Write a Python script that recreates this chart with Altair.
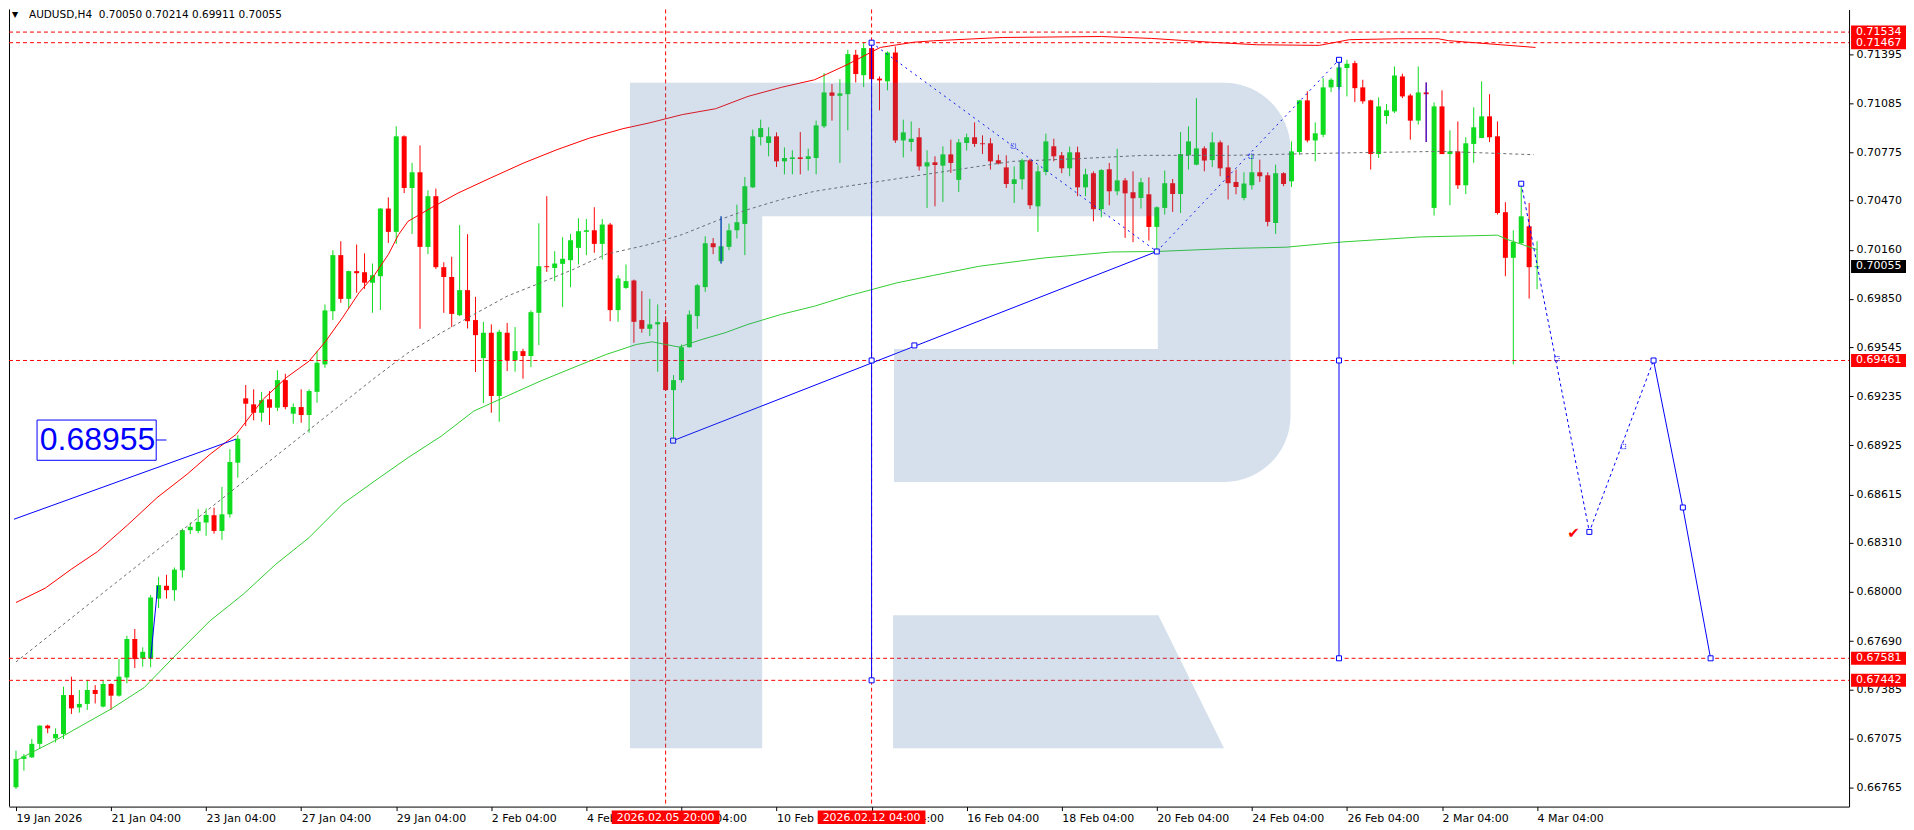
import altair as alt
import pandas as pd
import numpy as np

# ---------------- candles (H4 bars, index 0 = 19 Jan 2026) ----------------
OPEN = [0.66767,0.66946,0.66956,0.67041,0.67156,0.67076,0.67103,0.67349,0.67271,0.67293,
        0.67381,0.67276,0.67419,0.67345,0.67460,0.67703,0.67580,0.67580,0.67958,0.68039,
        0.68011,0.68137,0.68390,0.68385,0.68438,0.68484,0.68385,0.68490,0.68816,0.69222,
        0.69184,0.69131,0.69216,0.69163,0.69337,0.69125,0.69167,0.69117,0.69263,0.69436,
        0.69772,0.70126,0.69850,0.70025,0.70018,0.69952,0.69993,0.70420,0.70273,0.70876,
        0.70550,0.70649,0.70178,0.70498,0.70050,0.69988,0.69747,0.69905,0.69716,0.69476,
        0.69636,0.69237,0.69636,0.69463,0.69520,0.69489,0.69762,0.70056,0.70045,0.70071,
        0.70094,0.70172,0.70273,0.70283,0.70197,0.70319,0.69779,0.69919,0.69966,0.69716,
        0.69661,0.69689,0.69703,0.69274,0.69337,0.69545,0.69741,0.69924,0.70201,0.70088,
        0.70178,0.70283,0.70323,0.70554,0.70871,0.70834,0.70876,0.70718,0.70733,0.70743,
        0.70733,0.70739,0.70939,0.71153,0.71132,0.71142,0.71391,0.71262,0.71433,0.71240,
        0.71223,0.71405,0.70850,0.70840,0.70870,0.70686,0.70712,0.70691,0.70762,0.70601,
        0.70834,0.70870,0.70832,0.70832,0.70725,0.70680,0.70575,0.70605,0.70725,0.70434,
        0.70651,0.70813,0.70756,0.70674,0.70775,0.70554,0.70643,0.70416,0.70668,0.70529,
        0.70598,0.70523,0.70487,0.70510,0.70304,0.70424,0.70580,0.70512,0.70756,0.70697,
        0.70800,0.70726,0.70838,0.70680,0.70588,0.70487,0.70567,0.70649,0.70630,0.70329,
        0.70643,0.70592,0.70777,0.71103,0.70850,0.70886,0.71185,0.71187,0.71307,0.71338,
        0.71185,0.71103,0.70764,0.71004,0.71033,0.71254,0.71134,0.70975,0.71153,0.70424,
        0.71065,0.70764,0.70781,0.70567,0.70828,0.70865,0.71002,0.70876,0.70397,0.70109,
        0.70201,0.70308,0.70050]
HIGH = [0.66998,0.66977,0.67072,0.67158,0.67162,0.67139,0.67402,0.67465,0.67381,0.67444,
        0.67412,0.67440,0.67423,0.67576,0.67723,0.67766,0.67650,0.67980,0.68095,0.68108,
        0.68154,0.68400,0.68438,0.68522,0.68526,0.68532,0.68663,0.68901,0.68989,0.69306,
        0.69279,0.69263,0.69268,0.69399,0.69377,0.69190,0.69279,0.69279,0.69520,0.69815,
        0.70157,0.70214,0.70028,0.70193,0.70137,0.70073,0.70423,0.70491,0.70939,0.70882,
        0.70708,0.70819,0.70535,0.70546,0.70081,0.70116,0.70315,0.70258,0.69863,0.69705,
        0.69689,0.69655,0.69698,0.69672,0.69535,0.69777,0.70327,0.70498,0.70151,0.70239,
        0.70260,0.70359,0.70354,0.70428,0.70354,0.70329,0.69999,0.70067,0.69972,0.69899,
        0.69850,0.69815,0.69741,0.69369,0.69562,0.69777,0.69945,0.70245,0.70234,0.70371,
        0.70325,0.70445,0.70619,0.70918,0.70981,0.70933,0.70901,0.70806,0.70788,0.70903,
        0.70798,0.70975,0.71275,0.71206,0.71237,0.71422,0.71422,0.71470,0.71467,0.71254,
        0.71412,0.71443,0.70981,0.70970,0.70928,0.70788,0.70750,0.70813,0.70855,0.70859,
        0.70893,0.70964,0.70882,0.70865,0.70760,0.70756,0.70686,0.70735,0.70735,0.70693,
        0.70893,0.70861,0.70777,0.70811,0.70811,0.70672,0.70655,0.70669,0.70708,0.70798,
        0.70613,0.70655,0.70613,0.70617,0.70434,0.70660,0.70607,0.70903,0.70939,0.71117,
        0.70813,0.70901,0.70850,0.70819,0.70666,0.70649,0.70760,0.70729,0.70649,0.70697,
        0.70649,0.70844,0.71106,0.71160,0.70964,0.71243,0.71243,0.71359,0.71359,0.71353,
        0.71233,0.71107,0.71122,0.71080,0.71317,0.71271,0.71145,0.71317,0.71216,0.71090,
        0.71166,0.70914,0.70970,0.70870,0.71059,0.71223,0.71142,0.70970,0.70460,0.70283,
        0.70577,0.70455,0.70214]
LOW = [0.66756,0.66872,0.66952,0.67009,0.67108,0.67050,0.67072,0.67230,0.67238,0.67255,
       0.67296,0.67271,0.67255,0.67339,0.67423,0.67520,0.67528,0.67524,0.67898,0.67958,
       0.67944,0.68091,0.68365,0.68371,0.68354,0.68368,0.68329,0.68469,0.68721,0.69047,
       0.69083,0.69074,0.69054,0.69142,0.69153,0.69062,0.69068,0.69005,0.69194,0.69415,
       0.69716,0.69825,0.69793,0.69888,0.69913,0.69762,0.69779,0.70203,0.70197,0.70518,
       0.70260,0.69661,0.70132,0.70039,0.69762,0.69672,0.69741,0.69663,0.69388,0.69192,
       0.69131,0.69074,0.69394,0.69390,0.69346,0.69419,0.69558,0.70020,0.69962,0.69798,
       0.69924,0.70067,0.70126,0.70141,0.70098,0.69709,0.69705,0.69913,0.69573,0.69636,
       0.69615,0.69390,0.69270,0.68955,0.69320,0.69541,0.69661,0.69894,0.70132,0.70073,
       0.70157,0.70231,0.70126,0.70550,0.70819,0.70750,0.70682,0.70636,0.70636,0.70636,
       0.70660,0.70636,0.70928,0.70975,0.70708,0.70914,0.71216,0.71187,0.71229,0.71040,
       0.71166,0.70834,0.70743,0.70781,0.70660,0.70424,0.70434,0.70462,0.70645,0.70525,
       0.70786,0.70809,0.70764,0.70666,0.70698,0.70550,0.70455,0.70540,0.70418,0.70273,
       0.70630,0.70718,0.70643,0.70624,0.70498,0.70498,0.70340,0.70365,0.70441,0.70504,
       0.70235,0.70208,0.70420,0.70218,0.70149,0.70382,0.70399,0.70392,0.70666,0.70693,
       0.70655,0.70682,0.70624,0.70477,0.70510,0.70472,0.70540,0.70588,0.70308,0.70260,
       0.70561,0.70556,0.70760,0.70838,0.70718,0.70871,0.71155,0.71172,0.71128,0.71092,
       0.71082,0.70666,0.70739,0.70953,0.71023,0.71117,0.70855,0.70950,0.70840,0.70376,
       0.70764,0.70441,0.70544,0.70512,0.70708,0.70865,0.70840,0.70382,0.69993,0.69436,
       0.70195,0.69852,0.69911]
CLOSE = [0.66946,0.66962,0.67041,0.67156,0.67139,0.67103,0.67349,0.67265,0.67293,0.67381,
         0.67356,0.67419,0.67345,0.67465,0.67703,0.67576,0.67622,0.67965,0.68043,0.68011,
         0.68141,0.68390,0.68411,0.68442,0.68486,0.68385,0.68490,0.68820,0.68967,0.69188,
         0.69131,0.69211,0.69163,0.69337,0.69167,0.69167,0.69117,0.69268,0.69447,0.69777,
         0.70126,0.69850,0.70025,0.70012,0.69952,0.69999,0.70420,0.70273,0.70876,0.70550,
         0.70649,0.70178,0.70498,0.70050,0.69988,0.69755,0.69905,0.69709,0.69621,0.69636,
         0.69237,0.69642,0.69463,0.69520,0.69489,0.69766,0.70056,0.70050,0.70073,0.70103,
         0.70220,0.70277,0.70283,0.70197,0.70319,0.69779,0.69979,0.69962,0.69705,0.69661,
         0.69689,0.69703,0.69274,0.69337,0.69545,0.69751,0.69936,0.70201,0.70176,0.70182,
         0.70283,0.70334,0.70561,0.70876,0.70928,0.70876,0.70718,0.70739,0.70743,0.70733,
         0.70750,0.70945,0.71153,0.71132,0.71147,0.71395,0.71269,0.71433,0.71237,0.71229,
         0.71405,0.70850,0.70901,0.70861,0.70686,0.70712,0.70695,0.70762,0.70708,0.70838,
         0.70870,0.70828,0.70826,0.70718,0.70704,0.70575,0.70605,0.70725,0.70441,0.70655,
         0.70844,0.70750,0.70674,0.70775,0.70554,0.70636,0.70416,0.70663,0.70529,0.70598,
         0.70516,0.70485,0.70586,0.70304,0.70428,0.70580,0.70512,0.70764,0.70844,0.70800,
         0.70723,0.70838,0.70674,0.70580,0.70556,0.70578,0.70649,0.70624,0.70336,0.70643,
         0.70575,0.70781,0.71103,0.70850,0.70895,0.71185,0.71233,0.71311,0.71334,0.71180,
         0.71097,0.70764,0.71065,0.71040,0.71260,0.71128,0.70975,0.71153,0.71142,0.71065,
         0.70764,0.70781,0.70567,0.70832,0.70933,0.71002,0.70870,0.70392,0.70109,0.70209,
         0.70371,0.70050,0.70055]

# ---------------- axes ----------------
TICK_BARS = [0, 12, 24, 36, 48, 60, 72, 84, 96, 108, 120, 132, 144, 156, 168, 180, 192]
TICK_LABELS = ["19 Jan 2026", "21 Jan 04:00", "23 Jan 04:00", "27 Jan 04:00", "29 Jan 04:00",
               "2 Feb 04:00", "4 Feb 04:00", "6 Feb 04:00", "10 Feb 04:00", "12 Feb 04:00",
               "16 Feb 04:00", "18 Feb 04:00", "20 Feb 04:00", "24 Feb 04:00", "26 Feb 04:00",
               "2 Mar 04:00", "4 Mar 04:00"]
PRICE_TICKS = [0.71395, 0.71085, 0.70775, 0.70470, 0.70160, 0.69850, 0.69545, 0.69235,
               0.68925, 0.68615, 0.68310, 0.68000, 0.67690, 0.67385, 0.67075, 0.66765]

# ---------------- moving averages ----------------
RED_MA_B = [0, 3.7, 7, 10.3, 14.1, 17.8, 21.6, 24.5, 27.8, 31.2, 34.1, 37, 39.1, 41.2, 43.3, 45.3,
            47, 48.3, 49.5, 52.4, 55.8, 59.9, 64.1, 68.3, 72.4, 76.6, 79.9, 84.1, 88.3, 92.4, 96.6,
            100.8, 104.9, 109.1, 113.3, 115.8, 124.5, 137, 143.3, 150.8, 156.6, 164.5, 168.3, 174.5,
            179.5, 180.8, 187.4, 191.8]
RED_MA_P = [0.67933, 0.68024, 0.68144, 0.68255, 0.68423, 0.68595, 0.68743, 0.68869, 0.68995, 0.69216,
            0.69352, 0.69457, 0.69583, 0.69730, 0.69888, 0.70004, 0.70130, 0.70256, 0.70340, 0.70424,
            0.70518, 0.70613, 0.70708, 0.70792, 0.70865, 0.70924, 0.70960, 0.71013, 0.71050, 0.71128,
            0.71185, 0.71233, 0.71328, 0.71437, 0.71470, 0.71479, 0.71500, 0.71506, 0.71494, 0.71470,
            0.71454, 0.71450, 0.71486, 0.71492, 0.71492, 0.71480, 0.71454, 0.71437]
GREEN_MA_B = [0, 4.9, 12, 16.2, 20.3, 24.5, 28.7, 32.8, 37, 41.2, 45.3, 49.5, 53.7, 57.8, 62, 66.2,
              70.3, 74.5, 78.3, 80.3, 82, 83.7, 86.6, 89.5, 92.4, 96.6, 100.8, 104.9, 111.2, 115.8,
              121.6, 129.9, 138.3, 143.9, 153.3, 160.3, 167.4, 177.4, 187, 188.3, 192]
GREEN_MA_P = [0.66935, 0.67061, 0.67261, 0.67397, 0.67608, 0.67818, 0.67986, 0.68175, 0.68343, 0.68554,
              0.68701, 0.68848, 0.68984, 0.69142, 0.69237, 0.69331, 0.69415, 0.69499, 0.69562, 0.69579,
              0.69562, 0.69546, 0.69594, 0.69636, 0.69689, 0.69752, 0.69804, 0.69867, 0.69951, 0.69998,
              0.70056, 0.70109, 0.70146, 0.70149, 0.70168, 0.70176, 0.70209, 0.70241, 0.70252, 0.70224,
              0.70161]
GRAY_MA_B = [0, 12, 24, 36, 45.3, 49.5, 53.7, 57.8, 62, 66.2, 70.3, 74.5, 79.9, 84.1, 88.3, 92.4,
             96.6, 100.8, 104.9, 109.1, 115.8, 121.6, 125.8, 134.1, 142.4, 153.3, 167.4, 179.9, 191.6]
GRAY_MA_P = [0.67558, 0.68034, 0.68509, 0.68984, 0.69352, 0.69510, 0.69636, 0.69752, 0.69867, 0.69951,
             0.70035, 0.70132, 0.70193, 0.70256, 0.70340, 0.70414, 0.70477, 0.70529, 0.70561, 0.70592,
             0.70643, 0.70687, 0.70718, 0.70735, 0.70756, 0.70756, 0.70771, 0.70781, 0.70760]

# ---------------- drawn objects ----------------
H_LEVELS = [0.71534, 0.71467, 0.69461, 0.67581, 0.67442]
V_BARS = [82, 108]
DATE_TEXTS = ["2026.02.05 20:00", "2026.02.12 04:00"]
BLUE_A_B, BLUE_A_P = [-0.25, 27.8], [0.68459, 0.68965]
BLUE_B_B, BLUE_B_P = [82.95, 144], [0.68955, 0.70149]
BLUE_S_B, BLUE_S_P = [17.0, 17.9], [0.67580, 0.68039]
ZIG_B, ZIG_P = [108, 144, 167], [0.71467, 0.70149, 0.71359]
FC_DOT_B, FC_DOT_P = [190, 198.6, 206.7], [0.70577, 0.68379, 0.69461]
FC_SOL_B, FC_SOL_P = [206.7, 210.4, 213.9], [0.69461, 0.68533, 0.67581]
VL_B, VL_TOP, VL_BOT = [108, 167], [0.71467, 0.71359], [0.67442, 0.67581]
WICK_B, WICK_HI, WICK_LO = [89, 178], [0.70371, 0.71216], [0.70073, 0.70840]
SQ_B = [82.95, 108, 108, 108, 113.4, 144, 167, 167, 167, 190, 198.6, 206.7, 210.4, 213.9]
SQ_P = [0.68955, 0.71467, 0.69461, 0.67442, 0.69556, 0.70149, 0.71359, 0.69461, 0.67581,
        0.70577, 0.68379, 0.69461, 0.68533, 0.67581]
SQD_B = [125.9, 155.9, 194.5, 202.9]
SQD_P = [0.70814, 0.70750, 0.69472, 0.68918]
LABEL_VALUE = "0.68955"
LABEL_BOX_B, LABEL_BOX_P = [2.66, 17.7], [0.68831, 0.69085]
LABEL_TXT_B, LABEL_TXT_P = 3.0, 0.68959
LABEL_TICK_B = [17.7, 19.0]
CHECK_B, CHECK_P = 196.6, 0.68372
RIGHT_P = [0.71467, 0.71534, 0.69461, 0.67581, 0.67442, 0.70055]
RIGHT_BG = ["#ff0000", "#ff0000", "#ff0000", "#ff0000", "#ff0000", "#000000"]
HEADER = "AUDUSD,H4\u00a0 0.70050 0.70214 0.69911 0.70055"

# watermark "R" (bar / price units)
R_RECT_X0 = [77.5, 94.19, 110.83]
R_RECT_X1 = [94.19, 144.13, 144.13]
R_RECT_P0 = [0.67014, 0.70372, 0.68694]
R_RECT_P1 = [0.71214, 0.71214, 0.69533]
R_BOWL_X = [144.13, 160.88]
R_BOWL_P = [0.68694, 0.71214]
R_LEG_CENTER_B, R_LEG_CENTER_P = 131.6, 0.67433   # centre of the leg's bounding box
R_LEG_SIDE = 331.3                                 # bounding box width (px)
R_LEG_PATH = "M-1,-0.4014 L0.603,-0.4014 L1,0.4014 L-1,0.4014 Z"

# ---------------- chart ----------------
W, H = 1842, 798
GREEN, RED, BLUE = "#0fdc1e", "#ff0000", "#0000ff"
WM = "#4072a8"
FONT = "DejaVu Sans"

XS = alt.Scale(domain=[-0.25, 230.75], nice=False, zero=False)
YS = alt.Scale(domain=[0.66645, 0.71677], nice=False, zero=False)
label_expr = "[" + ",".join("'%s'" % t for t in TICK_LABELS) + "][round(datum.value/12)]"
XA = alt.Axis(values=TICK_BARS, labelExpr=label_expr, title=None, grid=False, orient="bottom",
              tickSize=4, tickColor="black", domainColor="black", labelColor="black",
              labelFont=FONT, labelFontSize=11, labelAlign="left", labelBaseline="top",
              labelPadding=2, labelOverlap=False, labelFlush=False, zindex=0)
YA = alt.Axis(values=PRICE_TICKS, format=".5f", title=None, grid=False, orient="right",
              tickSize=4, tickColor="black", domainColor="black", labelColor="black",
              labelFont=FONT, labelFontSize=11, labelAlign="left", labelBaseline="middle",
              labelPadding=3, labelOverlap=False, labelFlush=False, zindex=0)


def X(f):
    return alt.X(f, type="quantitative", scale=XS, axis=XA)


def Y(f):
    return alt.Y(f, type="quantitative", scale=YS, axis=YA)


def line_df(bs, ps):
    return pd.DataFrame({"b": bs, "p": ps, "i": list(range(len(bs)))})


cd = pd.DataFrame({"b": np.arange(len(OPEN)), "o": OPEN, "h": HIGH, "l": LOW, "c": CLOSE})
cd["dir"] = np.where(cd["c"] >= cd["o"], "up", "down")
top = cd[["o", "c"]].max(axis=1)
bot = cd[["o", "c"]].min(axis=1)
mid = (top + bot) / 2
small = (top - bot) < 0.00006
cd["bt"] = np.where(small, mid + 0.00003, top)
cd["bb"] = np.where(small, mid - 0.00003, bot)
col = alt.Color("dir:N", scale=alt.Scale(domain=["up", "down"], range=[GREEN, RED]), legend=None)

layers = []
dummy = pd.DataFrame({"k": [0]})

# left frame line
layers.append(alt.Chart(dummy).mark_rule(color="black", strokeWidth=1).encode(
    x=alt.value(0.5), y=alt.value(0), y2=alt.value(H)))

# candles
layers.append(alt.Chart(cd).mark_rule(strokeWidth=1).encode(x=X("b"), y=Y("l"), y2="h", color=col))
layers.append(alt.Chart(cd).mark_bar(size=5).encode(x=X("b"), y=Y("bb"), y2="bt", color=col))

# moving averages
layers.append(alt.Chart(line_df(GREEN_MA_B, GREEN_MA_P)).mark_line(color="#32cd32", strokeWidth=1)
              .encode(x=X("b"), y=Y("p"), order="i"))
layers.append(alt.Chart(line_df(GRAY_MA_B, GRAY_MA_P)).mark_line(color="#6b6b6b", strokeWidth=1,
              strokeDash=[3, 3]).encode(x=X("b"), y=Y("p"), order="i"))
layers.append(alt.Chart(line_df(RED_MA_B, RED_MA_P)).mark_line(color=RED, strokeWidth=1)
              .encode(x=X("b"), y=Y("p"), order="i"))

# red dashed levels
layers.append(alt.Chart(pd.DataFrame({"p": H_LEVELS})).mark_rule(color=RED, strokeWidth=1, strokeDash=[4, 3])
              .encode(y=Y("p"), x=alt.value(0), x2=alt.value(W)))
layers.append(alt.Chart(pd.DataFrame({"b": V_BARS})).mark_rule(color=RED, strokeWidth=1, strokeDash=[4, 3])
              .encode(x=X("b"), y=alt.value(0), y2=alt.value(H)))

# blue objects
for bs, ps, dash in [(BLUE_A_B, BLUE_A_P, None), (BLUE_B_B, BLUE_B_P, None), (BLUE_S_B, BLUE_S_P, None),
                     (ZIG_B, ZIG_P, [2, 4]), (FC_DOT_B, FC_DOT_P, [3, 3]), (FC_SOL_B, FC_SOL_P, None)]:
    kw = dict(color=BLUE, strokeWidth=1)
    if dash:
        kw["strokeDash"] = dash
    layers.append(alt.Chart(line_df(bs, ps)).mark_line(**kw).encode(x=X("b"), y=Y("p"), order="i"))
layers.append(alt.Chart(pd.DataFrame({"b": VL_B, "t": VL_TOP, "u": VL_BOT})).mark_rule(color=BLUE, strokeWidth=1)
              .encode(x=X("b"), y=Y("u"), y2="t"))
layers.append(alt.Chart(pd.DataFrame({"b": WICK_B, "t": WICK_HI, "u": WICK_LO})).mark_rule(color=BLUE, strokeWidth=1)
              .encode(x=X("b"), y=Y("u"), y2="t"))
layers.append(alt.Chart(pd.DataFrame({"b": SQ_B, "p": SQ_P})).mark_square(
    size=25, fill="white", stroke=BLUE, strokeWidth=1, opacity=1, fillOpacity=1).encode(x=X("b"), y=Y("p")))
layers.append(alt.Chart(pd.DataFrame({"b": SQD_B, "p": SQD_P})).mark_square(
    size=20, fill="white", fillOpacity=0, stroke=BLUE, strokeWidth=1, strokeDash=[1, 1], opacity=1)
    .encode(x=X("b"), y=Y("p")))

# label 0.68955
layers.append(alt.Chart(pd.DataFrame({"x0": [LABEL_BOX_B[0]], "x1": [LABEL_BOX_B[1]],
                                      "y0": [LABEL_BOX_P[0]], "y1": [LABEL_BOX_P[1]]}))
              .mark_rect(fill="white", stroke=BLUE, strokeWidth=1)
              .encode(x=X("x0"), x2="x1", y=Y("y0"), y2="y1"))
layers.append(alt.Chart(pd.DataFrame({"b": [LABEL_TICK_B[0]], "b2": [LABEL_TICK_B[1]], "p": [LABEL_TXT_P]}))
              .mark_rule(color=BLUE, strokeWidth=1).encode(x=X("b"), x2="b2", y=Y("p")))
layers.append(alt.Chart(pd.DataFrame({"b": [LABEL_TXT_B], "p": [LABEL_TXT_P], "t": [LABEL_VALUE]}))
              .mark_text(font="Liberation Sans", fontSize=32, color=BLUE, align="left", baseline="middle")
              .encode(x=X("b"), y=Y("p"), text="t"))

# check mark
layers.append(alt.Chart(pd.DataFrame({"b": [CHECK_B], "p": [CHECK_P], "t": ["\u2714"]}))
              .mark_text(font=FONT, fontSize=15, color=RED, align="center", baseline="middle")
              .encode(x=X("b"), y=Y("p"), text="t"))

# watermark (semi-transparent, on top of the price data)
layers.append(alt.Chart(pd.DataFrame({"x0": R_RECT_X0, "x1": R_RECT_X1, "y0": R_RECT_P0, "y1": R_RECT_P1}))
              .mark_rect(color=WM, opacity=0.22).encode(x=X("x0"), x2="x1", y=Y("y0"), y2="y1"))
layers.append(alt.Chart(pd.DataFrame({"x0": [R_BOWL_X[0]], "x1": [R_BOWL_X[1]],
                                      "y0": [R_BOWL_P[0]], "y1": [R_BOWL_P[1]]}))
              .mark_rect(color=WM, opacity=0.22, cornerRadiusTopRight=133, cornerRadiusBottomRight=133)
              .encode(x=X("x0"), x2="x1", y=Y("y0"), y2="y1"))
layers.append(alt.Chart(pd.DataFrame({"b": [R_LEG_CENTER_B], "p": [R_LEG_CENTER_P]}))
              .mark_point(shape=R_LEG_PATH, size=R_LEG_SIDE ** 2, filled=True, color=WM,
                          opacity=0.22, strokeWidth=0)
              .encode(x=X("b"), y=Y("p")))

# header
layers.append(alt.Chart(pd.DataFrame({"t": ["\u25bc"]})).mark_text(
    font=FONT, fontSize=8, color="black", align="left", baseline="top")
    .encode(x=alt.value(3), y=alt.value(1.5), text="t"))
layers.append(alt.Chart(pd.DataFrame({"t": [HEADER]})).mark_text(
    font=FONT, fontSize=10.5, color="black", align="left", baseline="top")
    .encode(x=alt.value(20), y=alt.value(0.5), text="t"))

# highlighted price labels on the right axis
rl = pd.DataFrame({"p": RIGHT_P, "bg": RIGHT_BG, "txt": ["%.5f" % v for v in RIGHT_P]})
rl["y0"] = rl["p"] - 0.00041
rl["y1"] = rl["p"] + 0.00041
layers.append(alt.Chart(rl).mark_rect().encode(
    x=alt.value(W + 2), x2=alt.value(W + 57), y=Y("y0"), y2="y1", color=alt.Color("bg:N", scale=None)))
layers.append(alt.Chart(rl).mark_text(font=FONT, fontSize=11, color="white", align="left", baseline="middle")
              .encode(x=alt.value(W + 7), y=Y("p"), text="txt"))

# highlighted date labels on the time axis
dl = pd.DataFrame({"b": V_BARS, "txt": DATE_TEXTS})
dl["x0"] = dl["b"] - 6.8
dl["x1"] = dl["b"] + 6.8
layers.append(alt.Chart(dl).mark_rect(color=RED).encode(
    x=X("x0"), x2="x1", y=alt.value(H + 4), y2=alt.value(H + 17.5)))
layers.append(alt.Chart(dl).mark_text(font=FONT, fontSize=11, color="white", align="center", baseline="middle")
              .encode(x=X("b"), y=alt.value(H + 11), text="txt"))

chart = alt.layer(*layers).properties(width=W, height=H, padding=0, background="white") \
    .configure_view(strokeWidth=0) \
    .configure_axis(domainWidth=1, tickWidth=1)

chart.save("out.html", embed_options={"renderer": "svg", "actions": False})
